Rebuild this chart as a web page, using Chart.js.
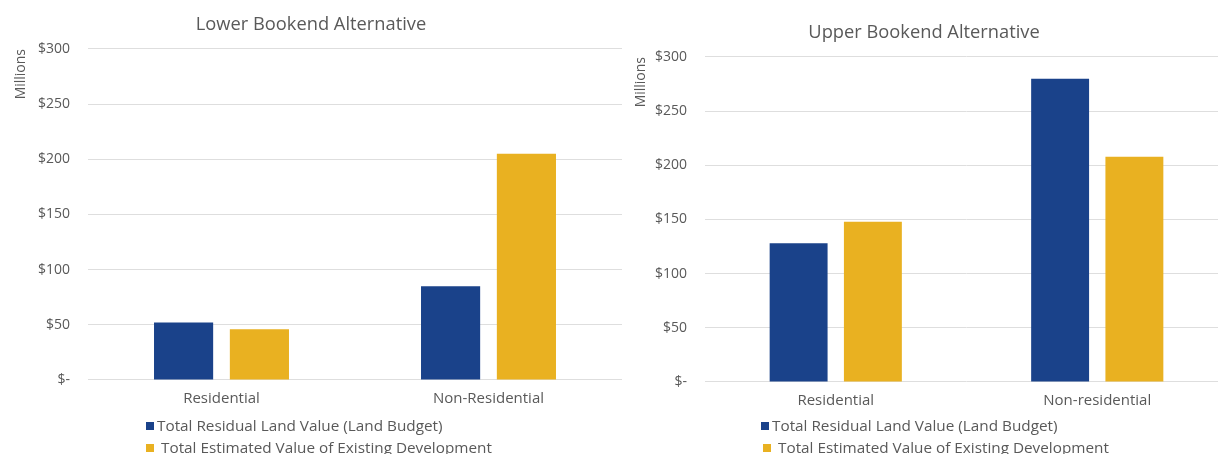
<!DOCTYPE html>
<html>
<head>
<meta charset="utf-8">
<script src="https://cdn.jsdelivr.net/npm/chart.js@4/dist/chart.umd.min.js"></script>
<style>
  html, body { margin: 0; padding: 0; background: #fff; overflow: hidden; }
  body { width: 1218px; height: 454px; position: relative; font-family: "Open Sans", sans-serif; color: #595959; }
  canvas { position: absolute; top: 0; }
  .legend { position: absolute; font-size: 15.3px; line-height: 22px; white-space: nowrap; }
  .legend div { position: relative; }
  .legend span.sw { display: inline-block; width: 8px; height: 8px; vertical-align: middle; margin-right: 3px; position: relative; top: -1px; }
</style>
</head>
<body>
<canvas id="lower" width="632" height="420" style="left:0"></canvas>
<canvas id="upper" width="618" height="422" style="left:620px"></canvas>

<div class="legend" style="left:146px; top:414px">
  <div><span class="sw" style="background:#1a428a"></span>Total Residual Land Value (Land Budget)</div>
  <div style="left:0"><span class="sw" style="background:#e9b121; margin-right:7px"></span>Total Estimated Value of Existing Development</div>
</div>
<div class="legend" style="left:761px; top:414px">
  <div><span class="sw" style="background:#1a428a"></span>Total Residual Land Value (Land Budget)</div>
  <div style="left:2px"><span class="sw" style="background:#e9b121; margin-right:7px"></span>Total Estimated Value of Existing Development</div>
</div>

<script>
// values in millions of dollars
const seriesNames = ["Total Residual Land Value (Land Budget)", "Total Estimated Value of Existing Development"];
const lowerCategories = ["Residential", "Non-Residential"];
const lowerResidual = [52, 85];
const lowerExisting = [46, 205];
const upperCategories = ["Residential", "Non-residential"];
const upperResidual = [128, 280];
const upperExisting = [148, 208];
const yTicks = [0, 50, 100, 150, 200, 250, 300];

const blue = "#1a428a";
const gold = "#e9b121";
const grey = "#595959";
const font = "'Open Sans', sans-serif";

function makeChart(id, title, cats, residual, existing, titlePad, axisWidth, rightPad) {
  const ctx = document.getElementById(id).getContext("2d");
  return new Chart(ctx, {
    type: "bar",
    data: {
      labels: cats,
      datasets: [
        { label: seriesNames[0], data: residual, backgroundColor: blue },
        { label: seriesNames[1], data: existing, backgroundColor: gold },
      ],
    },
    options: {
      responsive: false,
      animation: false,
      categoryPercentage: 0.568,
      barPercentage: 0.78,
      layout: { padding: { left: 0, right: rightPad, top: 0, bottom: 0 } },
      plugins: {
        legend: { display: false },
        tooltip: { enabled: false },
        title: {
          display: true,
          text: title,
          color: grey,
          font: { family: font, size: 18.3, weight: "normal" },
          padding: titlePad,
        },
      },
      scales: {
        x: {
          grid: { display: false, drawTicks: false },
          border: { display: false },
          ticks: { color: grey, padding: 10, font: { family: font, size: 15 } },
          afterFit: (s) => { s.height = 40; },
        },
        y: {
          min: 0,
          max: 300,
          afterBuildTicks: (s) => { s.ticks = yTicks.map((v) => ({ value: v })); },
          grid: { color: "#dedede", drawTicks: false },
          border: { display: false },
          ticks: {
            color: grey,
            padding: 18,
            font: { family: font, size: 14 },
            callback: (v) => (v === 0 ? "$-" : "$" + v),
          },
          title: {
            display: true,
            text: "Millions",
            align: "end",
            color: grey,
            font: { family: font, size: 14 },
            padding: { top: 13, bottom: 0 },
          },
          afterFit: (s) => { s.width = axisWidth; },
        },
      },
    },
  });
}

makeChart("lower", "Lower Bookend Alternative", lowerCategories, lowerResidual, lowerExisting,
  { top: 13.5, bottom: 13.5 }, 88, 10);
makeChart("upper", "Upper Bookend Alternative", upperCategories, upperResidual, upperExisting,
  { top: 22, bottom: 13 }, 85, 10);
</script>
</body>
</html>
